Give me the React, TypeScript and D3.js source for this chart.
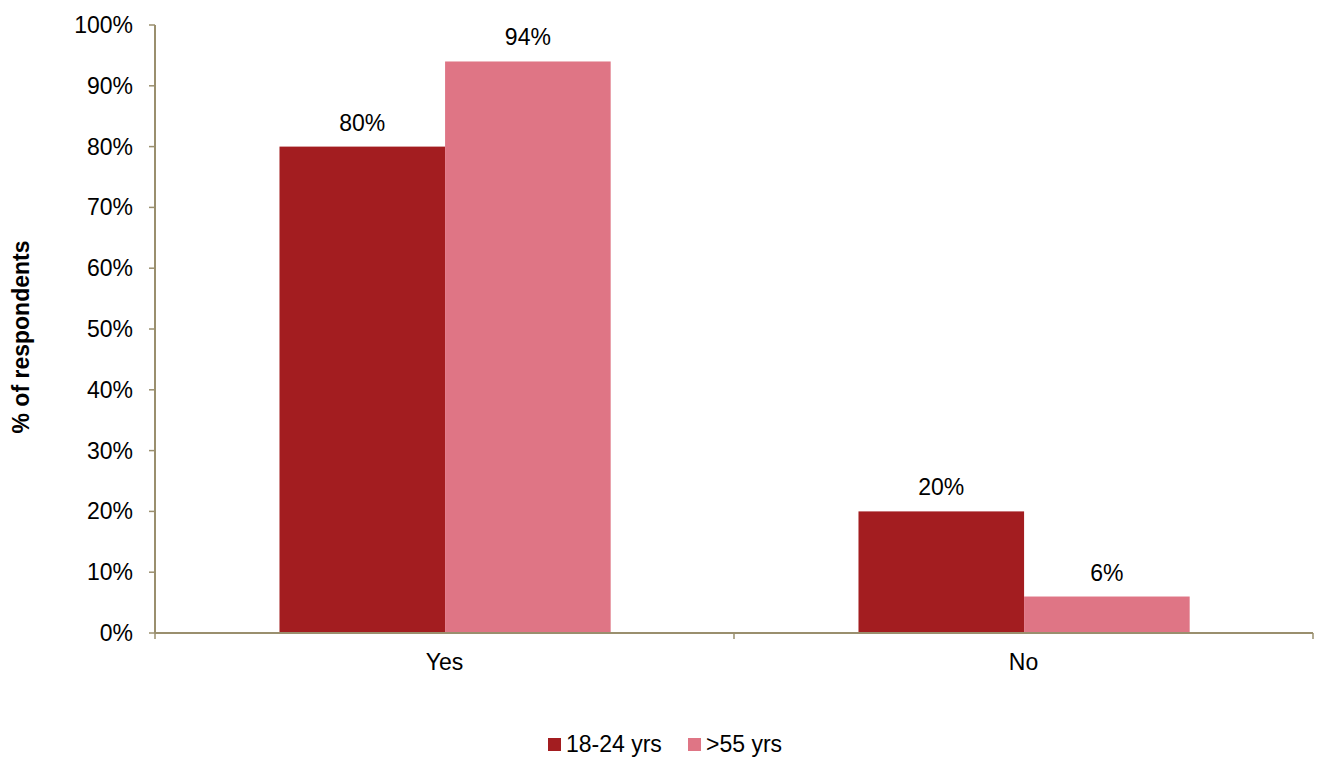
import React from "react";
import * as d3 from "d3";

const categories = ["Yes", "No"];
const seriesNames = ["18-24 yrs", ">55 yrs"];
const seriesValues = [
  [80, 20],
  [94, 6],
];
const seriesColors = ["#A31D20", "#DF7585"];
const yTicks = [0, 10, 20, 30, 40, 50, 60, 70, 80, 90, 100];

const W = 1318;
const H = 757;
const m = { left: 155, right: 5, top: 25, bottom: 124 };
const axisColor = "#9A8F6E";
const font = "'Liberation Sans', Arial, sans-serif";
const fs = 23;

export default function App() {
  const x0 = d3.scaleBand<string>().domain(categories).range([m.left, W - m.right]).padding(0);
  const bw = x0.bandwidth();
  const x1 = d3
    .scaleBand<string>()
    .domain(seriesNames)
    .range([bw * 0.215, bw * 0.787])
    .padding(0);
  const y = d3.scaleLinear().domain([0, 100]).range([H - m.bottom, m.top]);
  const y0 = y(0);

  const boundaries = [...categories.map((c) => x0(c)!), x0(categories[categories.length - 1])! + bw];

  return (
    <svg width={W} height={H} style={{ position: "absolute", left: 0, top: 0, background: "#fff" }}>
      {seriesNames.map((s, si) =>
        categories.map((c, ci) => {
          const v = seriesValues[si][ci];
          const bx = x0(c)! + x1(s)!;
          return (
            <g key={s + c}>
              <rect x={bx} y={y(v)} width={x1.bandwidth()} height={y0 - y(v)} fill={seriesColors[si]} />
              <text
                x={bx + x1.bandwidth() / 2}
                y={y(v) - 16}
                textAnchor="middle"
                fontFamily={font}
                fontSize={fs}
                fill="#000"
              >
                {v}%
              </text>
            </g>
          );
        })
      )}
      <line x1={m.left} x2={m.left} y1={m.top} y2={y0} stroke={axisColor} strokeWidth={2} />
      {yTicks.map((t) => (
        <g key={t}>
          <line x1={m.left - 6} x2={m.left} y1={y(t)} y2={y(t)} stroke={axisColor} strokeWidth={1.5} />
          <text
            x={m.left - 22}
            y={y(t)}
            dy="0.35em"
            textAnchor="end"
            fontFamily={font}
            fontSize={fs}
            fill="#000"
          >
            {t}%
          </text>
        </g>
      ))}
      <line x1={m.left} x2={W - m.right} y1={y0} y2={y0} stroke={axisColor} strokeWidth={2} />
      {boundaries.map((b, i) => (
        <line key={i} x1={b} x2={b} y1={y0} y2={y0 + 6} stroke={axisColor} strokeWidth={1.5} />
      ))}
      {categories.map((c) => (
        <text
          key={c}
          x={x0(c)! + bw / 2}
          y={670}
          textAnchor="middle"
          fontFamily={font}
          fontSize={fs}
          fill="#000"
        >
          {c}
        </text>
      ))}
      <text
        transform={`translate(29,${(m.top + y0) / 2 + 8}) rotate(-90)`}
        textAnchor="middle"
        fontFamily={font}
        fontSize={23}
        fontWeight="bold"
        fill="#000"
      >
        % of respondents
      </text>
      {seriesNames.map((s, i) => {
        const lx = [548, 688][i];
        return (
          <g key={s}>
            <rect x={lx} y={738} width={13} height={13} fill={seriesColors[i]} />
            <text x={lx + 18} y={752} fontFamily={font} fontSize={fs} fill="#000">
              {s}
            </text>
          </g>
        );
      })}
    </svg>
  );
}
